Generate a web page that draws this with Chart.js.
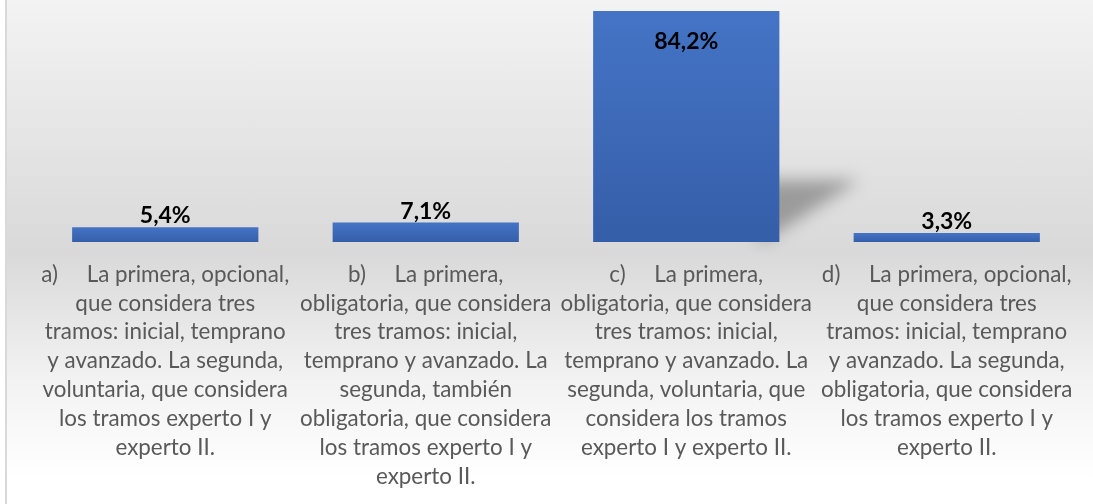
<!DOCTYPE html>
<html>
<head>
<meta charset="utf-8">
<script src="https://cdn.jsdelivr.net/npm/chart.js@4"></script>
<style>
  html, body { margin: 0; padding: 0; background: #ffffff; }
  #wrap { position: relative; width: 1093px; height: 504px; overflow: hidden; }
  #bg {
    position: absolute; left: 5px; top: 0; width: 1088px; height: 504px;
    border-left: 2px solid #d9d9d9;
    background: linear-gradient(180deg, #f3f3f3 0%, #e6e6e6 25%, #d9d9d9 50%, #f2f2f2 75%, #ffffff 95%);
  }
  #chart { position: absolute; left: 0; top: 0; }
</style>
</head>
<body>
<div id="wrap">
  <div id="bg"></div>
  <canvas id="chart" width="1093" height="504"></canvas>
</div>
<script>
// -------------------- Datos --------------------
const categories = [
  ["a)     La primera, opcional,", "que considera tres", "tramos: inicial, temprano", "y avanzado. La segunda,", "voluntaria, que considera", "los tramos experto I y", "experto II."],
  ["b)     La primera,", "obligatoria, que considera", "tres tramos: inicial,", "temprano y avanzado. La", "segunda, también", "obligatoria, que considera", "los tramos experto I y", "experto II."],
  ["c)     La primera,", "obligatoria, que considera", "tres tramos: inicial,", "temprano y avanzado. La", "segunda, voluntaria, que", "considera los tramos", "experto I y experto II."],
  ["d)     La primera, opcional,", "que considera tres", "tramos: inicial, temprano", "y avanzado. La segunda,", "obligatoria, que considera", "los tramos experto I y", "experto II."]
];
const values = [5.4, 7.1, 84.2, 3.3];

const FONT = "Lato";

// -------------------- Degradado de cada barra --------------------
function barGradient(context) {
  const chart = context.chart;
  const y = chart.scales.y;
  if (!y || !chart.chartArea || context.parsed === undefined) return "#4472c4";
  const top = y.getPixelForValue(context.parsed.y);
  const base = y.getPixelForValue(0);
  if (!isFinite(top) || !isFinite(base) || top === base) return "#4472c4";
  const g = chart.ctx.createLinearGradient(0, top, 0, base);
  g.addColorStop(0, "#4574c6");
  g.addColorStop(1, "#355ea8");
  return g;
}

// -------------------- Sombra de la barra alta --------------------
const shadowPlugin = {
  id: "barShadow",
  beforeDatasetsDraw(chart) {
    const meta = chart.getDatasetMeta(0);
    const ctx = chart.ctx;
    meta.data.forEach((el, i) => {
      if (values[i] < 50) return;
      const p = el.getProps(["x", "y", "base", "width"], true);
      const right = p.x + p.width / 2;
      ctx.save();
      ctx.filter = "blur(8px)";
      ctx.fillStyle = "rgba(0,0,0,0.3)";
      ctx.beginPath();
      ctx.moveTo(right - 20, p.base - 62);
      ctx.lineTo(right + 80, p.base - 62);
      ctx.lineTo(right - 20, p.base + 2);
      ctx.closePath();
      ctx.fill();
      ctx.restore();
    });
  }
};

// -------------------- Etiquetas de datos --------------------
const labelPlugin = {
  id: "valueLabels",
  afterDatasetsDraw(chart) {
    const meta = chart.getDatasetMeta(0);
    const ctx = chart.ctx;
    ctx.save();
    ctx.font = "bold 23px " + FONT;
    ctx.fillStyle = "#000000";
    ctx.textAlign = "center";
    ctx.textBaseline = "alphabetic";
    meta.data.forEach((el, i) => {
      const p = el.getProps(["x", "y"], true);
      const text = values[i].toFixed(1).replace(".", ",") + "%";
      let y = p.y - 4;
      if (y - 20 < chart.chartArea.top) y = p.y + 38;
      ctx.fillText(text, p.x, y);
    });
    ctx.restore();
  }
};

new Chart(document.getElementById("chart"), {
  type: "bar",
  data: {
    labels: categories,
    datasets: [{
      data: values,
      backgroundColor: barGradient,
      borderWidth: 0,
      categoryPercentage: 1,
      barPercentage: 0.715
    }]
  },
  options: {
    responsive: false,
    animation: false,
    layout: { padding: { left: 35, right: 16, top: 11, bottom: 0 } },
    plugins: {
      legend: { display: false },
      tooltip: { enabled: false }
    },
    scales: {
      x: {
        grid: { display: false, drawTicks: false },
        border: { display: false },
        // las etiquetas son altas: el eje ocupa más de la mitad del lienzo
        afterFit(scale) { scale.height = 262; },
        ticks: {
          color: "#595959",
          font: { family: FONT, size: 22.4, lineHeight: 1.29 },
          padding: 18,
          maxRotation: 0,
          minRotation: 0,
          autoSkip: false
        }
      },
      y: {
        display: false,
        min: 0,
        max: 84.2
      }
    }
  },
  plugins: [shadowPlugin, labelPlugin]
});
</script>
</body>
</html>
